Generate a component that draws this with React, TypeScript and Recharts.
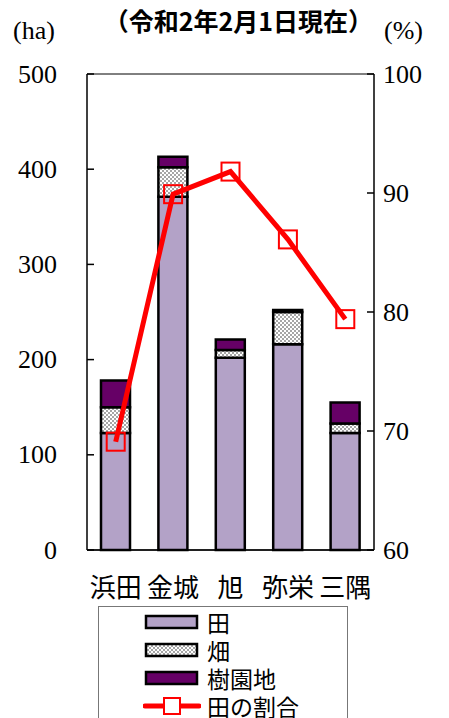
import { ComposedChart, Bar, Line, XAxis, YAxis, CartesianGrid } from 'recharts';

const areas = ['浜田', '金城', '旭', '弥栄', '三隅'];
const paddy = [123, 371, 202, 216, 123];
const field = [27, 31, 8, 34, 10];
const orchard = [28, 11, 11, 2, 22];
const paddyShare = [69.1, 89.9, 91.8, 86.1, 79.4];

const leftTicks = [0, 100, 200, 300, 400, 500];
const rightTicks = [60, 70, 80, 90, 100];

const legendNames = ['田', '畑', '樹園地', '田の割合'];

const data = areas.map((name, i) => ({
  name,
  paddy: paddy[i],
  field: field[i],
  orchard: orchard[i],
  share: paddyShare[i],
}));

const SERIF = '"Liberation Serif", "DejaVu Serif", serif';
const JP = '"Noto Sans CJK JP", sans-serif';

function LeftTick({ x, y, payload }: any) {
  return (
    <g>
      <line x1={x} x2={x + 7} y1={y} y2={y} stroke="#000" strokeWidth={1.5} />
      <text x={x - 30} y={y} textAnchor="end" dominantBaseline="central" fontFamily={SERIF} fontSize={26} fill="#000">
        {payload.value}
      </text>
    </g>
  );
}

function RightTick({ x, y, payload }: any) {
  return (
    <g>
      <line x1={x - 7} x2={x} y1={y} y2={y} stroke="#000" strokeWidth={1.5} />
      <text x={x + 9} y={y} textAnchor="start" dominantBaseline="central" fontFamily={SERIF} fontSize={26} fill="#000">
        {payload.value}
      </text>
    </g>
  );
}

function CatTick({ x, y, payload }: any) {
  return (
    <text x={x} y={y + 35} textAnchor="middle" dominantBaseline="central" fontFamily={JP} fontSize={26} fill="#000">
      {payload.value}
    </text>
  );
}

function SquareDot({ cx, cy, index }: any) {
  if (cx == null || cy == null) return null;
  return <rect key={index} x={cx - 9} y={cy - 9} width={18} height={18} fill="none" stroke="#ff0000" strokeWidth={2} />;
}

function Swatch({ kind }: { kind: number }) {
  if (kind === 3) {
    return (
      <svg width={58} height={18}>
        <line x1={2} x2={56} y1={9} y2={9} stroke="#ff0000" strokeWidth={5} strokeLinecap="round" />
        <rect x={21} y={1} width={16} height={16} fill="#fff" stroke="#ff0000" strokeWidth={2} />
      </svg>
    );
  }
  const fills = ['#b3a2c7', 'url(#checks)', '#660066'];
  return (
    <svg width={58} height={18}>
      <rect x={3} y={3} width={51} height={12} fill={fills[kind]} stroke="#000" strokeWidth={2.5} />
    </svg>
  );
}

export default function App() {
  return (
    <div style={{ position: 'absolute', left: 0, top: 0, width: 449, height: 718, background: '#fff', overflow: 'hidden' }}>
      <svg width={0} height={0} style={{ position: 'absolute' }}>
        <defs>
          <pattern id="checks" width={4} height={4} patternUnits="userSpaceOnUse">
            <rect width={4} height={4} fill="#ffffff" />
            <rect width={2} height={2} fill="#a6a6a6" />
            <rect x={2} y={2} width={2} height={2} fill="#a6a6a6" />
          </pattern>
        </defs>
      </svg>
      <div style={{ position: 'absolute', left: 0, top: 2, width: 449, textAlign: 'center', paddingLeft: 28, boxSizing: 'border-box', fontFamily: JP, fontWeight: 700, fontSize: 25 }}>
        （令和2年2月1日現在）
      </div>
      <div style={{ position: 'absolute', left: 13, top: 16, fontFamily: SERIF, fontSize: 26 }}>(ha)</div>
      <div style={{ position: 'absolute', left: 384, top: 16, fontFamily: SERIF, fontSize: 26 }}>(%)</div>
      <ComposedChart width={449} height={718} data={data} margin={{ top: 74, right: 0, bottom: 108, left: 0 }}>
        <CartesianGrid vertical={false} stroke="#000" strokeWidth={1} />
        <XAxis dataKey="name" height={60} tickSize={0} tickMargin={0} tickLine={false} axisLine={{ stroke: '#000', strokeWidth: 1.5 }} tick={<CatTick />} interval={0} />
        <YAxis yAxisId="left" domain={[0, 500]} ticks={leftTicks} width={87} tickSize={0} tickMargin={0} tickLine={false} axisLine={{ stroke: '#000', strokeWidth: 1.5 }} tick={<LeftTick />} />
        <YAxis yAxisId="right" orientation="right" domain={[60, 100]} ticks={rightTicks} width={75} tickSize={0} tickMargin={0} tickLine={false} axisLine={{ stroke: '#000', strokeWidth: 1.5 }} tick={<RightTick />} />
        <Bar yAxisId="left" dataKey="paddy" stackId="a" barSize={29} fill="#b3a2c7" stroke="#000" strokeWidth={2.5} isAnimationActive={false} />
        <Bar yAxisId="left" dataKey="field" stackId="a" barSize={29} fill="url(#checks)" stroke="#000" strokeWidth={2.5} isAnimationActive={false} />
        <Bar yAxisId="left" dataKey="orchard" stackId="a" barSize={29} fill="#660066" stroke="#000" strokeWidth={2.5} isAnimationActive={false} />
        <Line yAxisId="right" dataKey="share" stroke="#ff0000" strokeWidth={5} dot={<SquareDot />} activeDot={false} isAnimationActive={false} />
      </ComposedChart>
      <div style={{ position: 'absolute', left: 98, top: 606, width: 250, height: 130, border: '1px solid #777', boxSizing: 'border-box', background: '#fff' }}>
        {legendNames.map((n, i) => (
          <div key={n} style={{ position: 'absolute', left: 44, top: 2 + i * 28, height: 26, display: 'flex', alignItems: 'center' }}>
            <Swatch kind={i} />
            <span style={{ marginLeft: 6, fontFamily: JP, fontSize: 23, lineHeight: '26px' }}>{n}</span>
          </div>
        ))}
      </div>
    </div>
  );
}
